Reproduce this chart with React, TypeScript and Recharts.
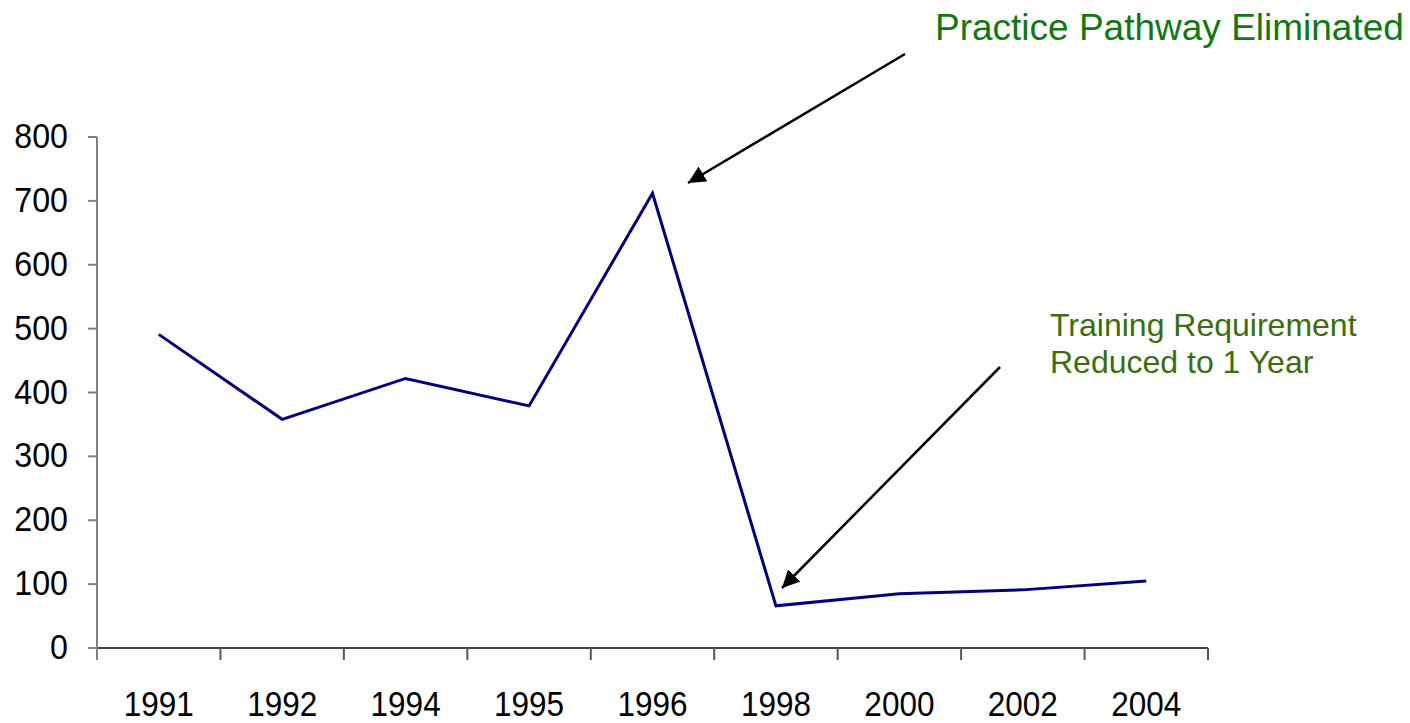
import { LineChart, Line, XAxis, YAxis } from 'recharts';

const years = ['1991', '1992', '1994', '1995', '1996', '1998', '2000', '2002', '2004'];
const counts = [491, 358, 422, 379, 712, 66, 85, 91, 105];
const yTicks = [0, 100, 200, 300, 400, 500, 600, 700, 800];

const data = years.map((year, i) => ({ year, count: counts[i] }));

const W = 1410;
const H = 723;
const MARGIN = { top: 137, right: 202, bottom: 0, left: 0 };
const Y_AXIS_W = 97;
const X_AXIS_H = 75;
const FONT = 'Arial, "Liberation Sans", sans-serif';

const plotWidth = W - MARGIN.left - MARGIN.right - Y_AXIS_W;
const band = plotWidth / years.length;

// category labels sit in the middle of each band, tick marks on the band edges
const YearTick = (props: any) => {
  const { x, y, index } = props;
  const left = x - band / 2;
  const right = x + band / 2;
  return (
    <g>
      <line x1={left} y1={y - 8} x2={left} y2={y + 4} stroke="#555" strokeWidth={2} />
      {index === years.length - 1 && (
        <line x1={right} y1={y - 8} x2={right} y2={y + 4} stroke="#555" strokeWidth={2} />
      )}
      <text
        transform={`translate(${x},${y + 60}) scale(0.9,1)`}
        textAnchor="middle"
        fontSize={35}
        fontFamily={FONT}
        fill="#000"
      >
        {props.payload.value}
      </text>
    </g>
  );
};

const CountTick = (props: any) => {
  const { x, y, payload } = props;
  return (
    <text
      transform={`translate(${x - 18},${y + 11}) scale(0.92,1)`}
      textAnchor="end"
      fontSize={35}
      fontFamily={FONT}
      fill="#000"
    >
      {payload.value}
    </text>
  );
};

export default function App() {
  return (
    <div style={{ position: 'fixed', left: 0, top: 0, width: W, height: H, background: '#fff' }}>
      <LineChart width={W} height={H} data={data} margin={MARGIN}>
        <XAxis
          dataKey="year"
          height={X_AXIS_H}
          interval={0}
          padding={{ left: band / 2, right: band / 2 }}
          tickLine={false}
          axisLine={{ stroke: '#404040', strokeWidth: 2 }}
          tick={<YearTick />}
        />
        <YAxis
          width={Y_AXIS_W}
          domain={[0, 800]}
          ticks={yTicks}
          interval={0}
          tickSize={9}
          tickLine={{ stroke: '#808080', strokeWidth: 2 }}
          axisLine={{ stroke: '#808080', strokeWidth: 2 }}
          tick={<CountTick />}
        />
        <Line
          type="linear"
          dataKey="count"
          stroke="#000080"
          strokeWidth={3}
          dot={false}
          isAnimationActive={false}
        />
      </LineChart>
      <svg
        width={W}
        height={H}
        style={{ position: 'absolute', left: 0, top: 0, pointerEvents: 'none' }}
      >
        <defs>
          <marker id="head" viewBox="0 0 10 10" refX="10" refY="5" markerWidth="7" markerHeight="7" orient="auto">
            <path d="M0,0 L10,5 L0,10 z" fill="#000" />
          </marker>
        </defs>
        {/* value axis runs a little past the category axis */}
        <line x1={97} y1={648} x2={97} y2={660} stroke="#808080" strokeWidth={2} />
        <line x1={905} y1={54} x2={688} y2={183} stroke="#000" strokeWidth={2.5} markerEnd="url(#head)" />
        <line x1={1000} y1={367} x2={782} y2={588} stroke="#000" strokeWidth={2.5} markerEnd="url(#head)" />
        <text x={935} y={40} fontSize={37} fontFamily={FONT} fill="#107810">
          Practice Pathway Eliminated
        </text>
        <text x={1050} y={336} fontSize={32} fontFamily={FONT} fill="#3a6e0c">
          <tspan x={1050}>Training Requirement</tspan>
          <tspan x={1050} dy={37}>Reduced to 1 Year</tspan>
        </text>
      </svg>
    </div>
  );
}
